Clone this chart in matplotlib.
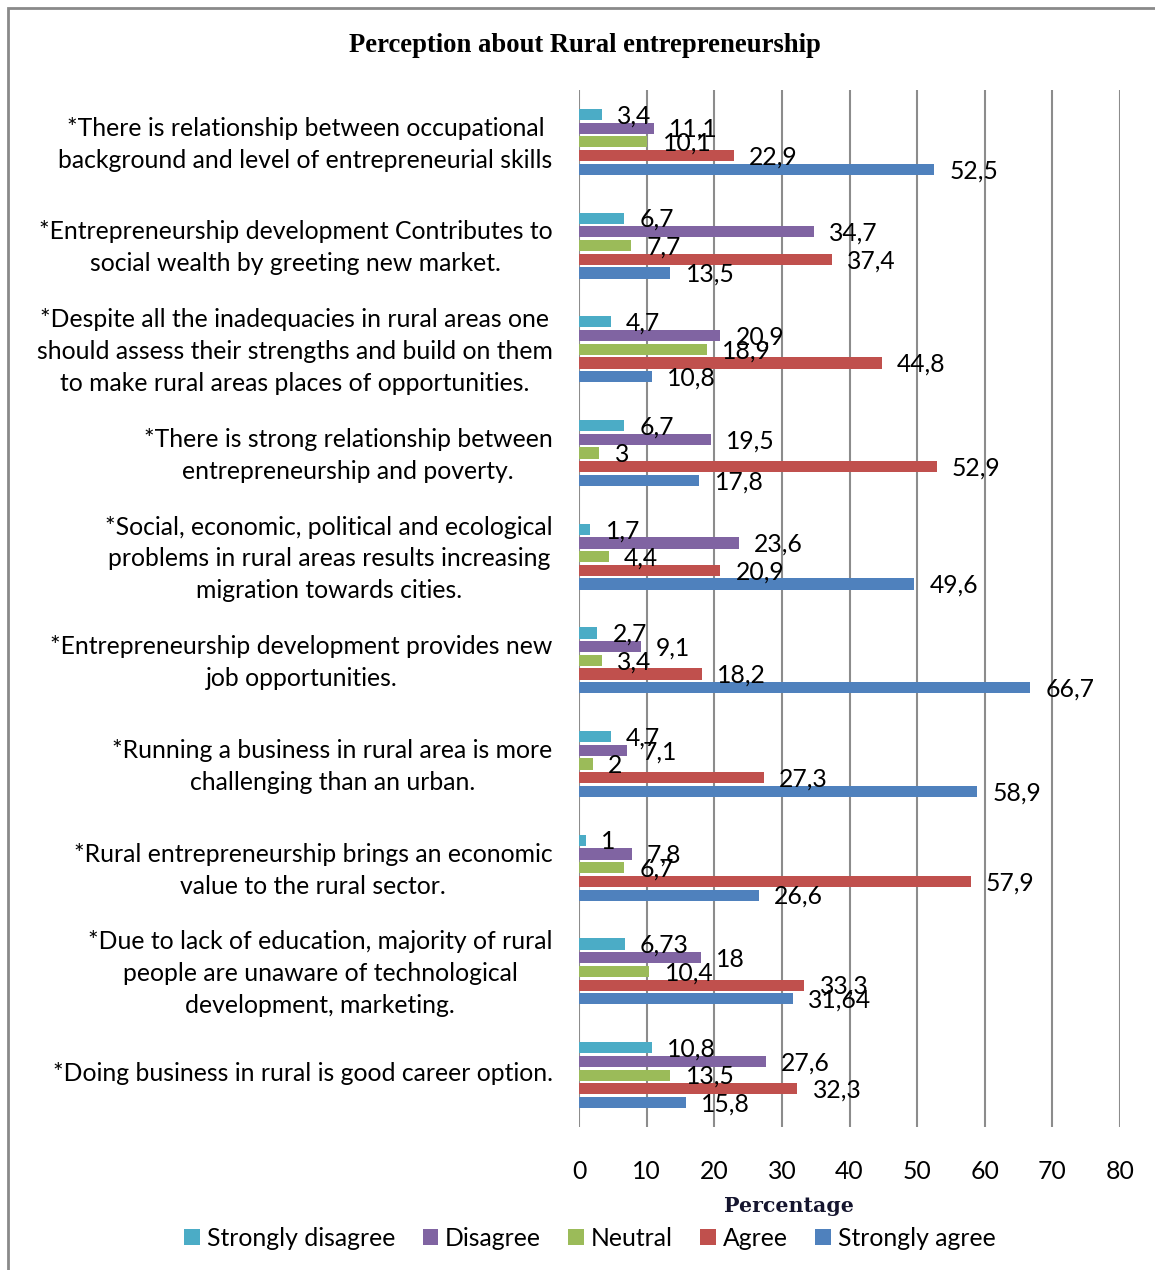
import numpy as np
import matplotlib.pyplot as plt
from matplotlib.patches import Patch, Rectangle

# Categories, top to bottom as in the chart
statements = [
    "*There is relationship between occupational\nbackground and level of entrepreneurial skills",
    "*Entrepreneurship development Contributes to\nsocial wealth by greeting new market.",
    "*Despite all the inadequacies in rural areas one\nshould assess their strengths and build on them\nto make rural areas places of opportunities.",
    "*There is strong relationship between\nentrepreneurship and poverty.",
    "*Social, economic, political and ecological\nproblems in rural areas results increasing\nmigration towards cities.",
    "*Entrepreneurship development provides new\njob opportunities.",
    "*Running a business in rural area is more\nchallenging than an urban.",
    "*Rural entrepreneurship brings an economic\nvalue to the rural sector.",
    "*Due to lack of education, majority of rural\npeople are unaware of technological\ndevelopment, marketing.",
    "*Doing business in rural is good career option.",
]

strongly_disagree = [3.4, 6.7, 4.7, 6.7, 1.7, 2.7, 4.7, 1, 6.73, 10.8]
disagree = [11.1, 34.7, 20.9, 19.5, 23.6, 9.1, 7.1, 7.8, 18, 27.6]
neutral = [10.1, 7.7, 18.9, 3, 4.4, 3.4, 2, 6.7, 10.4, 13.5]
agree = [22.9, 37.4, 44.8, 52.9, 20.9, 18.2, 27.3, 57.9, 33.3, 32.3]
strongly_agree = [52.5, 13.5, 10.8, 17.8, 49.6, 66.7, 58.9, 26.6, 31.64, 15.8]

series_names = ["Strongly disagree", "Disagree", "Neutral", "Agree", "Strongly agree"]
series_values = [strongly_disagree, disagree, neutral, agree, strongly_agree]
colors = ["#4BACC6", "#8064A2", "#9BBB59", "#C0504D", "#4F81BD"]

x_ticks = [0, 10, 20, 30, 40, 50, 60, 70, 80]

W, H = 1155, 1270
fig = plt.figure(figsize=(W / 100, H / 100), dpi=100)
plt.rcParams['font.family'] = ['Lato', 'DejaVu Sans']
fs = 17.8

ax = fig.add_axes([579 / W, 1 - 1127 / H, 541 / W, 1037 / H])

y = np.arange(len(statements))
slot = 0.132
bar_h = 0.108
for k, (name, vals, c) in enumerate(zip(series_names, series_values, colors)):
    pos = y + (k - 2) * slot
    bars = ax.barh(pos, vals, height=bar_h, color=c, zorder=3)
    for b, v in zip(bars, vals):
        ax.annotate(f"{v:g}".replace('.', ','),
                    (b.get_width(), b.get_y() + b.get_height() / 2),
                    xytext=(11, -1), textcoords='offset points',
                    ha='left', va='center', fontsize=fs, zorder=4)

ax.set_xlim(0, 80)
ax.set_ylim(len(statements) - 0.5, -0.5)
ax.set_xticks(x_ticks)
ax.set_xticklabels([str(t) for t in x_ticks])
# category labels sit a few pixels above the group centre, as in the original
ax.set_yticks(y - 0.04)
ax.set_yticklabels(statements)
for lab in ax.get_yticklabels():
    lab.set_multialignment('center')
    lab.set_linespacing(1.47)
ax.tick_params(axis='y', length=0, pad=19, labelsize=fs)
ax.tick_params(axis='x', length=0, pad=24, labelsize=fs)
ax.xaxis.grid(True, color='#8C8C8C', linewidth=1.5, zorder=0)
for s in ax.spines.values():
    s.set_visible(False)

fig.text(585 / W, 1 - 45 / H, "Perception about Rural entrepreneurship",
         ha='center', va='center', fontsize=19.2, fontweight='bold',
         family='Liberation Serif')
fig.text(789 / W, 1 - 1206 / H, "Percentage", ha='center', va='center',
         fontsize=14.8, fontweight='bold', family='DejaVu Serif', color='#15152e')

handles = [Patch(facecolor=c, label=n) for n, c in zip(series_names, colors)]
fig.legend(handles=handles, loc='center', bbox_to_anchor=(590 / W, 1 - 1238 / H),
           ncol=5, frameon=False, fontsize=fs, handlelength=0.62, handleheight=0.62,
           handletextpad=0.3, columnspacing=1.1)

# outer chart border (runs off the right and bottom edges)
fig.patches.append(Rectangle((8 / W, -0.05), 1.2, 1 - 8 / H + 0.05,
                             transform=fig.transFigure, fill=False,
                             edgecolor='#8A8A8A', linewidth=2))

fig.savefig("out.png", dpi=100)
